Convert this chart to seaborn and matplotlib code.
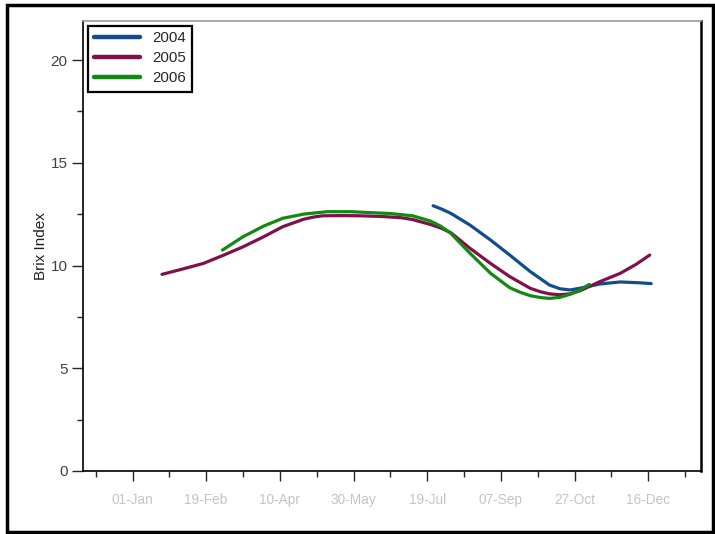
import matplotlib
matplotlib.use('Agg')
import matplotlib.pyplot as plt
from matplotlib.patches import Rectangle
from matplotlib.ticker import MultipleLocator, FixedLocator
import pandas as pd
import seaborn as sns

# day of year (0 = 01-Jan) and Brix readings
days_2004 = [204, 210, 216, 229, 243, 256, 270, 277, 283, 290, 297, 304, 317, 331, 344, 352]
brix_2004 = [12.91, 12.74, 12.54, 11.97, 11.24, 10.51, 9.70, 9.35, 9.05, 8.87, 8.81, 8.90,
             9.10, 9.20, 9.16, 9.12]

days_2005 = [20, 34, 48, 62, 75, 89, 102, 116, 123, 129, 142, 154, 168, 182, 190, 202, 209,
             216, 222, 229, 243, 256, 270, 277, 283, 290, 297, 304, 317, 331, 342, 351]
brix_2005 = [9.57, 9.83, 10.10, 10.51, 10.91, 11.40, 11.89, 12.25, 12.36, 12.42, 12.43, 12.42,
             12.39, 12.33, 12.24, 12.00, 11.83, 11.60, 11.25, 10.84, 10.10, 9.46, 8.89, 8.72,
             8.62, 8.58, 8.62, 8.78, 9.21, 9.62, 10.07, 10.51]

days_2006 = [61, 75, 89, 102, 116, 132, 148, 163, 175, 190, 202, 209, 216, 222, 229, 243,
             256, 263, 270, 277, 283, 290, 297, 304, 310]
brix_2006 = [10.75, 11.40, 11.92, 12.30, 12.50, 12.62, 12.62, 12.57, 12.53, 12.42, 12.17,
             11.92, 11.57, 11.12, 10.60, 9.62, 8.92, 8.70, 8.53, 8.44, 8.40, 8.45, 8.60, 8.82, 9.08]

tick_days = [0, 50, 100, 150, 200, 250, 300, 350]
tick_labels = ['01-Jan', '19-Feb', '10-Apr', '30-May', '19-Jul', '07-Sep', '27-Oct', '16-Dec']

colors = {'2004': '#124c8c', '2005': '#80104a', '2006': '#108a10'}

df = pd.concat([
    pd.DataFrame({'day': days_2004, 'brix': brix_2004, 'year': '2004'}),
    pd.DataFrame({'day': days_2005, 'brix': brix_2005, 'year': '2005'}),
    pd.DataFrame({'day': days_2006, 'brix': brix_2006, 'year': '2006'}),
])

sns.set_style('ticks')
plt.rcParams['font.family'] = ['Liberation Sans', 'DejaVu Sans']

fig = plt.figure(figsize=(7.15, 5.34), dpi=100)
ax = fig.add_axes([83 / 715, 63 / 534, 618 / 715, 450 / 534])

sns.lineplot(data=df, x='day', y='brix', hue='year', palette=colors,
             linewidth=2.3, ax=ax, sort=False)
for line in ax.get_lines():
    line.set_solid_joinstyle('round')
    line.set_solid_capstyle('round')

ax.set_xlim(-33.6, 385.8)
ax.set_ylim(0, 21.9)

ax.xaxis.set_major_locator(FixedLocator(tick_days))
ax.xaxis.set_minor_locator(FixedLocator([-25, 25, 75, 125, 175, 225, 275, 325, 375]))
ax.set_xticklabels(tick_labels, fontsize=9.8, color='#c4c4c4')
ax.yaxis.set_major_locator(MultipleLocator(5))
ax.yaxis.set_minor_locator(MultipleLocator(2.5))
ax.tick_params(axis='y', which='major', length=8, width=1, labelsize=11, labelcolor='#404040', pad=3)
ax.tick_params(axis='y', which='minor', length=4, width=1)
ax.tick_params(axis='x', which='major', length=7, width=1, pad=9)
ax.tick_params(axis='x', which='minor', length=4, width=1)

ax.set_xlabel('')
ax.set_ylabel('Brix Index', fontsize=11, color='#202020', labelpad=2)

for side in ['left', 'bottom', 'right']:
    ax.spines[side].set_color('black')
    ax.spines[side].set_linewidth(1.2)
ax.spines['right'].set_linewidth(1.8)
ax.spines['top'].set_color('#9a9a9a')
ax.spines['top'].set_linewidth(1.2)

leg = ax.legend(loc='upper left', fontsize=10.8, handlelength=3.1, labelspacing=0.4,
                borderaxespad=0.3, fancybox=False, framealpha=1, borderpad=0.4,
                handletextpad=0.8)
leg.get_frame().set_edgecolor('black')
leg.get_frame().set_linewidth(1.6)
for line in leg.get_lines():
    line.set_linewidth(3.2)

# black frame around the whole picture
fig.patches.append(Rectangle((7 / 715, 2 / 534), 706 / 715, 527 / 534,
                             transform=fig.transFigure, fill=False,
                             edgecolor='black', linewidth=2.5))

fig.savefig('out.png', dpi=100)
